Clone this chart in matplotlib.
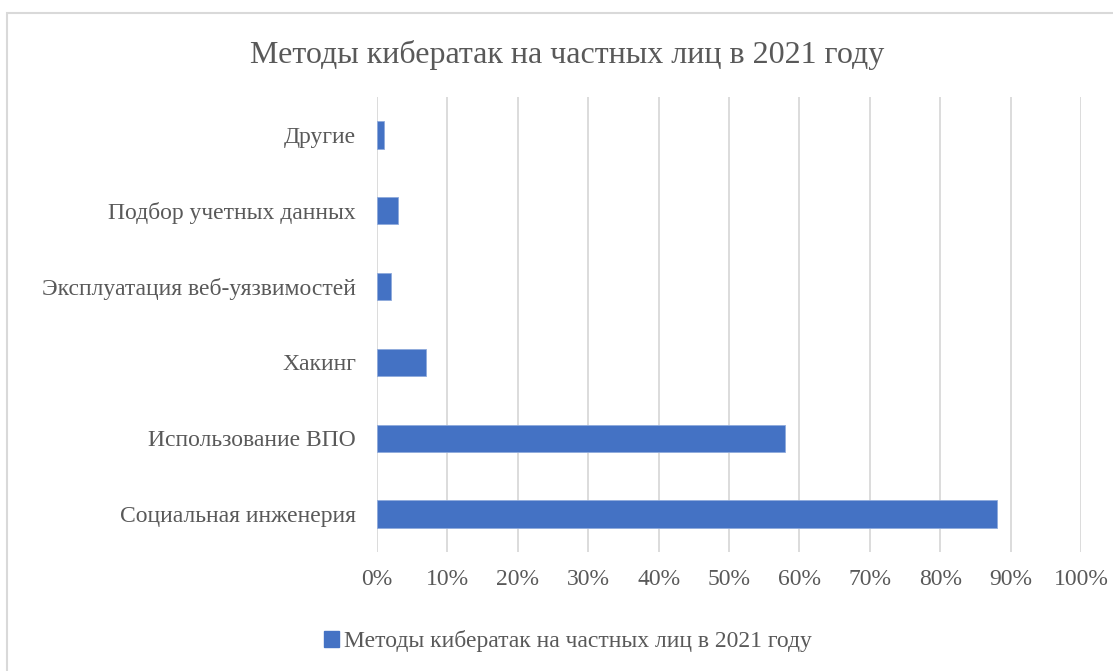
import matplotlib
matplotlib.use("Agg")
import matplotlib.pyplot as plt
from matplotlib.patches import Rectangle
from matplotlib.ticker import FuncFormatter, MultipleLocator

categories = ["Социальная инженерия", "Использование ВПО", "Хакинг",
              "Эксплуатация веб-уязвимостей", "Подбор учетных данных", "Другие"]
values = [0.88, 0.58, 0.07, 0.02, 0.03, 0.01]
series_name = "Методы кибератак на частных лиц в 2021 году"
title = "Методы кибератак на частных лиц в 2021 году"

plt.rcParams['font.family'] = ['Liberation Serif', 'DejaVu Serif']
W, H = 1113, 671
fig = plt.figure(figsize=(W/100, H/100), dpi=100)
fig.patch.set_facecolor('white')

# chart border
fig.patches.append(Rectangle((7/W, -0.1), 1.1, 1 - 13/H + 0.1, transform=fig.transFigure,
                             fill=False, edgecolor='#d9d9d9', linewidth=1.5))

ax = fig.add_axes([377/W, 1 - 552/H, (1081 - 377)/W, (552 - 97)/H])
y = range(len(categories))
ax.barh(list(y), values, height=0.36, color='#4472C4', edgecolor='#8faadc', linewidth=0.6, zorder=3)
ax.set_xlim(0, 1.0)
ax.set_ylim(-0.5, len(categories) - 0.5)
ax.set_yticks(list(y))
ax.set_yticklabels(categories)
ax.xaxis.set_major_locator(MultipleLocator(0.1))
ax.xaxis.set_major_formatter(FuncFormatter(lambda v, p: f"{round(v*100)}%"))
ax.grid(axis='x', color='#d9d9d9', linewidth=1.3, zorder=0)
for s in ax.spines.values():
    s.set_visible(False)
ax.tick_params(axis='both', length=0, labelsize=17, colors='#595959')
ax.tick_params(axis='x', pad=12)
ax.tick_params(axis='y', pad=15)

fig.text(0.5 * (250 + 884) / W, 1 - 55/H, title, ha='center', va='center',
         fontsize=23, color='#595959')

ax.legend([Rectangle((0, 0), 1, 1, color='#4472C4')], [series_name],
          loc='center', bbox_to_anchor=(568/W, 1 - 641/H), bbox_transform=fig.transFigure,
          frameon=False, fontsize=17, labelcolor='#595959', handlelength=0.65,
          handleheight=0.65, handletextpad=0.2)

fig.savefig("out.png", dpi=100, facecolor='white')
